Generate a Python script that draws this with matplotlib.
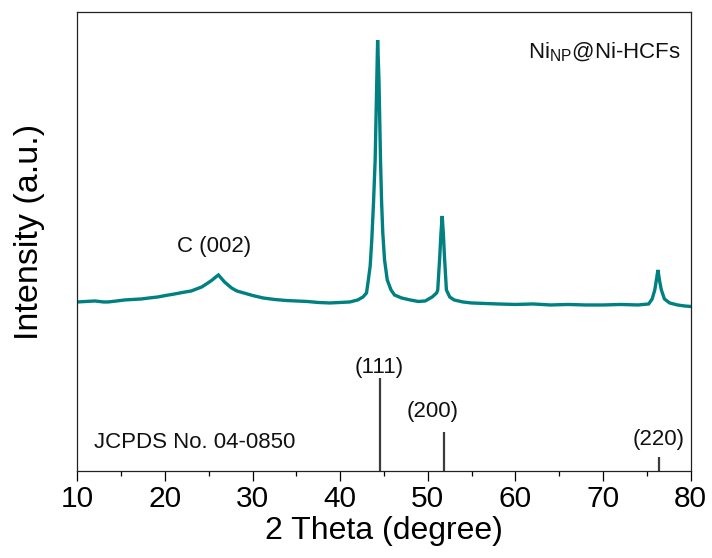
import numpy as np
import matplotlib.pyplot as plt
from matplotlib.ticker import MultipleLocator

plt.rcParams['font.family'] = ['Liberation Sans', 'DejaVu Sans']
plt.rcParams['mathtext.default'] = 'regular'

# XRD trace of Ni_NP@Ni-HCFs (2theta in degrees, intensity in arbitrary units)
two_theta = [
    10.0, 11.0, 12.0, 13.0, 13.5, 14.5, 15.4, 16.3, 17.3, 18.2, 19.2, 20.1,
    21.1, 22.0, 23.0, 23.6, 24.2, 24.9, 25.4, 25.8, 26.1, 26.4, 26.8, 27.2,
    27.6, 28.2, 29.0, 30.0, 31.2, 32.5, 33.8, 35.0, 36.2, 37.5, 38.8, 40.0,
    41.1, 42.0, 42.6, 43.0, 43.15, 43.42, 43.61, 43.8, 43.99, 44.15, 44.27,
    44.42, 44.6, 44.72, 44.86, 45.06, 45.37, 45.8, 46.2, 47.0, 48.0, 48.9,
    49.7, 50.5, 51.0, 51.13, 51.36, 51.5, 51.64, 51.78, 51.9, 52.12, 52.5,
    53.0, 54.0, 55.0, 56.5, 58.0, 60.0, 62.0, 64.0, 66.0, 68.0, 70.0, 72.0,
    74.0, 75.2, 75.6, 75.9, 76.1, 76.26, 76.45, 76.65, 77.0, 77.6, 78.5,
    79.3, 80.0,
]
intensity = [
    169, 169.5, 170, 169, 169, 170, 171, 171.5, 172, 173, 174, 175.5,
    177, 178.5, 180, 182, 184, 188, 191, 194, 196, 193, 189, 186,
    183, 180, 178, 175.5, 173, 171.5, 170.5, 170, 169.5, 168.5, 168, 168.5,
    169, 171, 174, 178, 187, 205, 232, 268, 311, 380, 431,
    392, 311, 270, 238, 211, 191, 181, 176, 173, 171, 169.5,
    170, 174, 178, 181, 214, 238, 255, 236, 214, 181, 174,
    171, 169, 168, 167.5, 167, 166.5, 167, 166, 166.5, 166, 166, 166.5,
    166, 167, 172, 181, 192, 201, 190, 181, 172, 168, 166,
    165, 164.5,
]

# JCPDS No. 04-0850 reference sticks for Ni
ref_pos = [44.5, 51.8, 76.4]
ref_height = [92.7, 38.7, 14.3]
ref_hkl = ['(111)', '(200)', '(220)']
ref_label_xy = [(44.5, 103.5), (50.5, 59), (76.3, 31)]

fig = plt.figure(figsize=(7.12, 5.58), dpi=100)
ax = fig.add_axes([0.1086, 0.156, 0.8615, 0.8225])

ax.plot(two_theta, intensity, color='#008080', lw=2.4, solid_joinstyle='miter')
ax.vlines(ref_pos, 0, ref_height, color='#3c3c3c', lw=1.6)

for (lx, ly), hkl in zip(ref_label_xy, ref_hkl):
    ax.text(lx, ly, hkl, ha='center', va='center', fontsize=16, color='#111111')

ax.text(25.6, 224, 'C (002)', ha='center', va='center', fontsize=16, color='#111111')
ax.text(11.9, 28, 'JCPDS No. 04-0850', ha='left', va='center', fontsize=16,
        color='#111111')
ax.text(78.8, 419, r'Ni$_{NP}$@Ni-HCFs', ha='right', va='center', fontsize=16,
        color='#111111')

ax.set_xlim(10, 80)
ax.set_ylim(0, 459)
ax.xaxis.set_major_locator(MultipleLocator(10))
ax.xaxis.set_minor_locator(MultipleLocator(5))
ax.set_yticks([])
ax.tick_params(axis='x', which='major', direction='out', length=7, width=0.9,
               labelsize=21.5, pad=3)
ax.tick_params(axis='x', which='minor', direction='out', length=3.5, width=0.9)
for spine in ax.spines.values():
    spine.set_linewidth(0.9)
    spine.set_color('#222222')

ax.set_xlabel('2 Theta (degree)', fontsize=23, labelpad=2)
ax.set_ylabel('Intensity (a.u.)', fontsize=24.5)
ax.yaxis.set_label_coords(-0.052, 0.52)

fig.savefig('out.png', dpi=100)
